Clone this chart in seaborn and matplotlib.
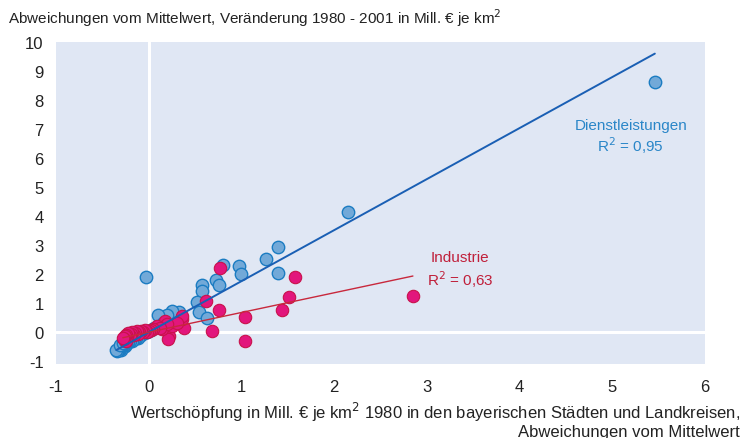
import numpy as np
import pandas as pd
import seaborn as sns
import matplotlib.pyplot as plt

# Dienstleistungen: x = Wertschoepfung 1980, y = Veraenderung 1980-2001 (Abweichung vom Mittelwert)
dienst_x = [5.46, 2.15, 1.39, 1.26, 1.40, 0.97, 1.00, 0.80, 0.73, 0.76, 0.57, 0.57,
            0.52, 0.54, 0.63, -0.03, 0.33, 0.25, 0.20, 0.10, 0.15, 0.12, 0.06, 0.02,
            -0.02, -0.05, -0.08, -0.10, -0.12, -0.14, -0.16, -0.18, -0.20, -0.22,
            -0.24, -0.25, -0.26, -0.27, -0.28, -0.29, -0.30, -0.30, -0.31, -0.32,
            -0.33, -0.34, -0.35, -0.31, -0.28, -0.26]
dienst_y = [8.62, 4.14, 2.93, 2.52, 2.02, 2.28, 2.00, 2.31, 1.79, 1.62, 1.62, 1.41,
            1.03, 0.69, 0.48, 1.90, 0.69, 0.72, 0.59, 0.59, 0.30, 0.22, 0.12, 0.06,
            0.00, -0.05, -0.12, -0.15, -0.20, -0.22, -0.25, -0.30, -0.33, -0.36,
            -0.40, -0.42, -0.48, -0.45, -0.52, -0.50, -0.55, -0.62, -0.58, -0.60,
            -0.62, -0.66, -0.64, -0.45, -0.38, -0.30]

# Industrie
indu_x = [2.85, 1.58, 1.51, 1.44, 0.77, 0.62, 0.76, 1.04, 1.04, 0.68, 0.38, 0.36,
          0.36, 0.22, 0.21, 0.18, 0.09, 0.14, 0.25, 0.30, 0.20, 0.12, 0.05, 0.02,
          0.00, -0.02, -0.04, -0.06, -0.08, -0.10, -0.12, -0.13, -0.15, -0.16,
          -0.18, -0.19, -0.20, -0.22, -0.23, -0.24, -0.25, -0.26, -0.27, -0.28]
indu_y = [1.24, 1.90, 1.20, 0.74, 2.21, 1.07, 0.76, 0.53, -0.31, 0.03, 0.14, 0.45,
          0.55, -0.14, -0.24, 0.38, 0.21, 0.10, 0.21, 0.30, 0.28, 0.12, 0.10, 0.08,
          0.02, 0.00, 0.05, -0.02, 0.03, 0.00, -0.08, 0.02, -0.03, -0.10,
          0.00, -0.08, -0.15, -0.05, -0.20, -0.10, -0.30, -0.15, -0.25, -0.20]

# lineare Trends (Steigung, Achsenabschnitt) und Bestimmtheitsmass
dienst_fit = (1.76, -0.01)
indu_fit = (0.68, -0.01)
dienst_r2 = "0,95"
indu_r2 = "0,63"

x_ticks = [-1, 0, 1, 2, 3, 4, 5, 6]
y_ticks = [-1, 0, 1, 2, 3, 4, 5, 6, 7, 8, 9, 10]

blue_fill, blue_edge, blue_line, blue_text = "#72a9d8", "#1b7cc2", "#1a5fb4", "#2a86c8"
red_fill, red_edge, red_line, red_text = "#e2167c", "#c8124a", "#c8283c", "#c01f3a"

sns.set_theme(style="white")
plt.rcParams['font.family'] = ['Liberation Sans', 'DejaVu Sans']
plt.rcParams['axes.unicode_minus'] = False

df_d = pd.DataFrame({"x": dienst_x, "y": dienst_y})
df_i = pd.DataFrame({"x": indu_x, "y": indu_y})

fig = plt.figure(figsize=(7.42, 4.39), dpi=100)
ax = fig.add_axes([0.0755, 0.169, 0.8745, 0.733])
ax.set_facecolor("#e0e7f4")

ax.axhline(0, color="white", lw=2.2, zorder=1)
ax.axvline(0, color="white", lw=2.2, zorder=1)

sns.scatterplot(data=df_d, x="x", y="y", ax=ax, s=80, color=blue_fill,
                edgecolor=blue_edge, linewidth=1.0, zorder=3)
sns.scatterplot(data=df_i, x="x", y="y", ax=ax, s=80, color=red_fill,
                edgecolor=red_edge, linewidth=0.8, zorder=4)

xd = np.array([min(dienst_x), max(dienst_x)])
ax.plot(xd, dienst_fit[0] * xd + dienst_fit[1], color=blue_line, lw=1.4, zorder=5)
xi = np.array([min(indu_x), max(indu_x)])
ax.plot(xi, indu_fit[0] * xi + indu_fit[1], color=red_line, lw=1.0, zorder=5)

ax.text(5.2, 7.15, "Dienstleistungen", color=blue_text, fontsize=11, ha="center", va="center")
ax.text(5.2, 6.45, "R$^2$ = " + dienst_r2, color=blue_text, fontsize=11, ha="center", va="center")
ax.text(3.36, 2.6, "Industrie", color=red_text, fontsize=11, ha="center", va="center")
ax.text(3.36, 1.85, "R$^2$ = " + indu_r2, color=red_text, fontsize=11, ha="center", va="center")

ax.set_xlim(-1, 6)
ax.set_ylim(-1.1, 10)
ax.set_xticks(x_ticks)
ax.set_yticks(y_ticks)
ax.tick_params(axis="both", length=0, labelsize=12, colors="#222222")
ax.tick_params(axis="x", pad=11)
ax.tick_params(axis="y", pad=9)
for s in ax.spines.values():
    s.set_visible(False)
ax.set_xlabel("")
ax.set_ylabel("")

fig.text(0.011, 0.958, "Abweichungen vom Mittelwert, Veränderung 1980 - 2001 in Mill. € je km$^2$",
         fontsize=11, ha="left", va="center", color="#222222")
fig.text(0.997, 0.060, "Wertschöpfung in Mill. € je km$^2$ 1980 in den bayerischen Städten und Landkreisen,",
         fontsize=12, ha="right", va="center", color="#222222")
fig.text(0.997, 0.014, "Abweichungen vom Mittelwert", fontsize=12, ha="right", va="center",
         color="#222222")

fig.savefig("out.png", dpi=100)
